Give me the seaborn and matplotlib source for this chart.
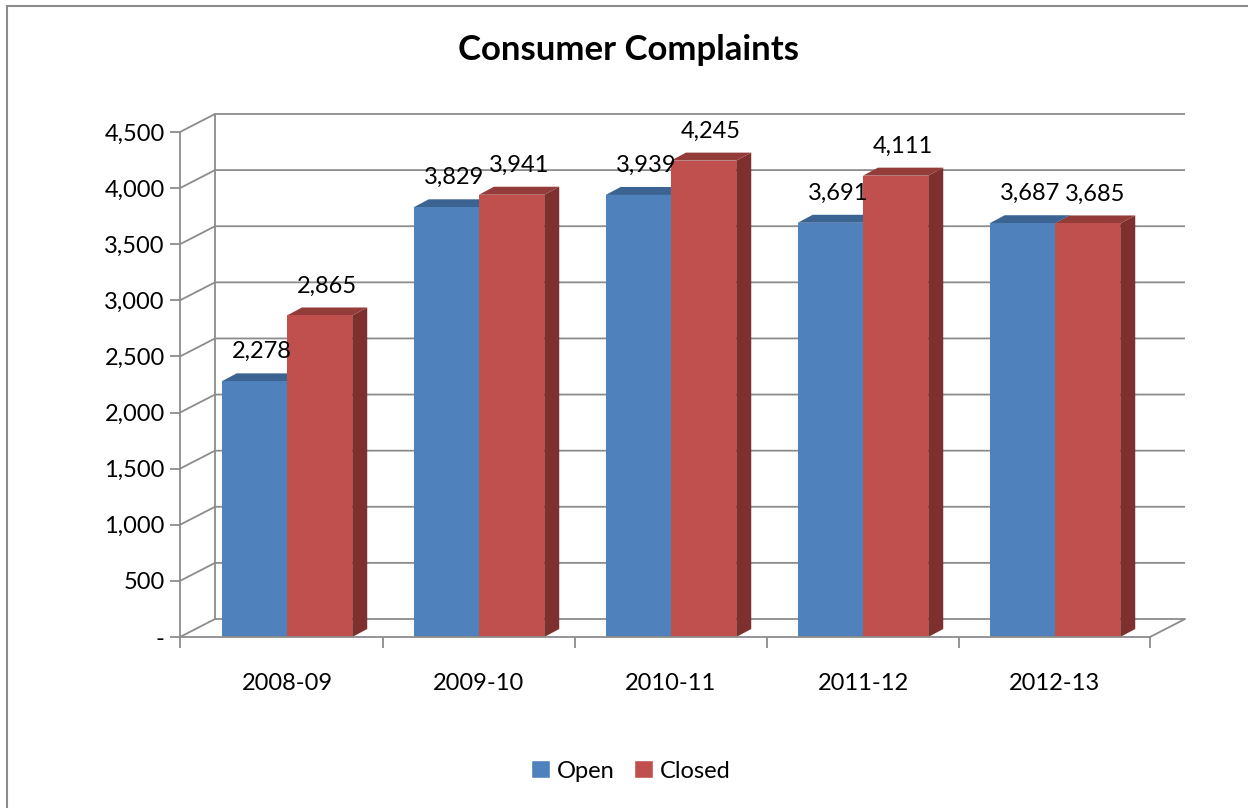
import matplotlib
matplotlib.use("Agg")
import matplotlib.pyplot as plt
from matplotlib.patches import Polygon, Rectangle
from matplotlib.ticker import FuncFormatter
import seaborn as sns
import pandas as pd

# Consumer complaints per financial year
years = ["2008-09", "2009-10", "2010-11", "2011-12", "2012-13"]
open_counts = [2278, 3829, 3939, 3691, 3687]
closed_counts = [2865, 3941, 4245, 4111, 3685]
series_names = ["Open", "Closed"]
series_colors = ["#4f81bd", "#c0504d"]
top_colors = ["#3c6493", "#943c39"]
side_colors = ["#36587f", "#7e302e"]
y_ticks = [0, 500, 1000, 1500, 2000, 2500, 3000, 3500, 4000, 4500]

df = pd.DataFrame({
    "year": years * 2,
    "count": open_counts + closed_counts,
    "status": [series_names[0]] * len(years) + [series_names[1]] * len(years),
})

sns.set_style("white")
plt.rcParams["font.family"] = ["Lato", "DejaVu Sans"]
plt.rcParams["text.color"] = "black"
plt.rcParams["xtick.labelcolor"] = "black"
plt.rcParams["ytick.labelcolor"] = "black"

W, H = 1248, 808
fig = plt.figure(figsize=(W / 100, H / 100), dpi=100)
fig.patch.set_facecolor("white")

# axes box in pixels
ax_l, ax_r, ax_top, ax_bot = 180, 1150, 132, 637
ax = fig.add_axes([ax_l / W, (H - ax_bot) / H, (ax_r - ax_l) / W, (ax_bot - ax_top) / H])

x0, x1 = -0.557, 4.495
y0, y1 = 0, 4500
px_x = (ax_r - ax_l) / (x1 - x0)
px_y = (ax_bot - ax_top) / (y1 - y0)

sns.barplot(data=df, x="year", y="count", hue="status", palette=series_colors,
            width=0.68, saturation=1, ax=ax, legend=False)
ax.set_xlim(x0, x1)
ax.set_ylim(y0, y1)

grid_c = "#8c8c8c"
# back wall offset
dxw, dyw = 35 / px_x, 18 / px_y
for v in y_ticks:
    ax.plot([x0, x0 + dxw, x1 + dxw], [v, v + dyw, v + dyw], color=grid_c,
            lw=1.3, zorder=0.5, clip_on=False, solid_capstyle="butt")
ax.plot([x0 + dxw, x0 + dxw], [dyw, y1 + dyw], color=grid_c, lw=1.3, zorder=0.5, clip_on=False)
ax.plot([x1, x1 + dxw], [0, dyw], color=grid_c, lw=1.3, zorder=0.5, clip_on=False)

# 3D depth faces of each bar
dx, dy = 15 / px_x, 8 / px_y
for k, cont in enumerate(ax.containers):
    for bar in cont:
        bx, bw, bh = bar.get_x(), bar.get_width(), bar.get_height()
        bar.set_zorder(2)
        bar.set_edgecolor("none")
        top = Polygon([(bx, bh), (bx + bw, bh), (bx + bw + dx, bh + dy), (bx + dx, bh + dy)],
                      closed=True, facecolor=top_colors[k], edgecolor="none", zorder=1.6, clip_on=False)
        side = Polygon([(bx + bw, 0), (bx + bw + dx, dy), (bx + bw + dx, bh + dy), (bx + bw, bh)],
                       closed=True, facecolor=side_colors[k], edgecolor="none", zorder=1.5, clip_on=False)
        ax.add_patch(top)
        ax.add_patch(side)
        ax.annotate(f"{int(bh):,}", xy=(bx + bw / 2 + dx / 2, bh + dy), xytext=(0, 8),
                    textcoords="offset points", ha="center", va="bottom", fontsize=17,
                    color="black", zorder=3)

# axes styling
for s in ["top", "right"]:
    ax.spines[s].set_visible(False)
for s in ["left", "bottom"]:
    ax.spines[s].set_color(grid_c)
    ax.spines[s].set_linewidth(1.3)
ax.set_yticks(y_ticks)
ax.yaxis.set_major_formatter(FuncFormatter(lambda v, p: "-" if v == 0 else f"{int(v):,}"))
ax.tick_params(axis="y", length=7, width=1.3, color=grid_c, labelsize=17, pad=4, left=True)
ax.tick_params(axis="x", which="major", length=0, labelsize=17, pad=26)
ax.set_xticks([x0, 0.5, 1.5, 2.5, 3.5, x1], minor=True)
ax.tick_params(axis="x", which="minor", length=8, width=1.3, color=grid_c, bottom=True)
ax.set_xlabel("")
ax.set_ylabel("")

fig.text(629 / W, 1 - 50 / H, "Consumer Complaints", ha="center", va="center",
         fontsize=25, fontweight="bold", color="black")

# legend
handles = [Rectangle((0, 0), 1, 1, facecolor=c) for c in series_colors]
fig.legend(handles, series_names, loc="center", bbox_to_anchor=(631 / W, 1 - 771 / H),
           ncol=2, frameon=False, fontsize=17, handlelength=0.8, handleheight=0.8,
           handletextpad=0.3, columnspacing=0.8)

# chart border
fig.add_artist(Rectangle((7 / W, -0.1), 1.2, 1 - 6 / H + 0.1, transform=fig.transFigure,
                         facecolor="none", edgecolor="#8c8c8c", lw=1.5))

fig.savefig("out.png", dpi=100)
